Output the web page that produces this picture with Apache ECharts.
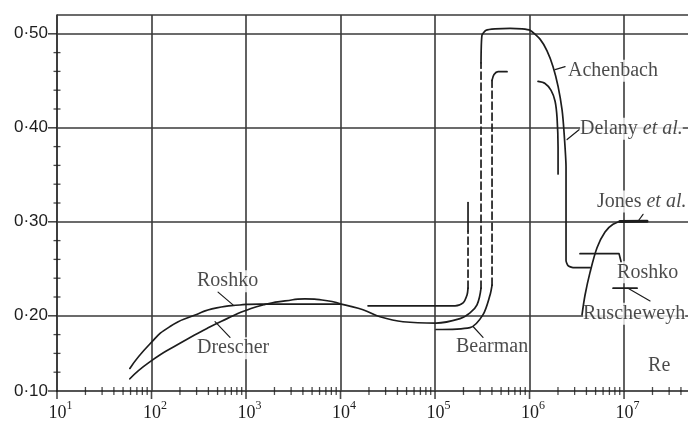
<!DOCTYPE html>
<html>
<head>
<meta charset="utf-8">
<script src="https://cdn.jsdelivr.net/npm/echarts@6/dist/echarts.min.js"></script>
<style>
  html, body { margin: 0; padding: 0; background: #fff; }
  #chart { width: 688px; height: 422px; }
</style>
</head>
<body>
<div id="chart"></div>
<script>
// Strouhal number St of a circular cylinder against Reynolds number Re (log scale)

// ---- axis ticks ----
const yTickValues = [0.12, 0.20, 0.30, 0.40, 0.50];
const yTickLabels = ['0·10', '0·20', '0·30', '0·40', '0·50'];
const xDecades = [10, 100, 1e3, 1e4, 1e5, 1e6, 1e7];
const xTickExponents = ['1', '2', '3', '4', '5', '6', '7'];

// ---- curves: [Re, St] ----
const roshkoLow = [[59, 0.144], [96, 0.170], [157, 0.1886], [275, 0.200], [490, 0.2085], [860, 0.2115], [1400, 0.2125], [3700, 0.2125], [9900, 0.2125]];
const drescher = [[59, 0.133], [96, 0.151], [200, 0.1708], [386, 0.1865], [630, 0.197], [975, 0.2053], [1590, 0.2121], [2590, 0.2158], [4200, 0.2179], [6370, 0.2168], [9900, 0.2127]];
const subcritical = [[9900, 0.2127], [17300, 0.2065], [26200, 0.199], [45800, 0.1937], [102600, 0.1923], [184000, 0.197], [234600, 0.2032], [278000, 0.2116], [306600, 0.2294]];
const bearmanUpper = [[19550, 0.2106], [163000, 0.2106], [198000, 0.2137], [218000, 0.2221], [223400, 0.2294]];
const bearmanUpperJump = [[223400, 0.2294], [223400, 0.2902]];
const bearmanUpperTop = [[223400, 0.2902], [223400, 0.3205]];
const bearmanLower = [[102600, 0.1854], [234600, 0.1875], [322000, 0.2012], [382000, 0.2221], [401000, 0.2326]];
const bearmanLowerJump = [[401000, 0.2326], [401000, 0.4504]];
const bearmanLowerTop = [[401000, 0.4504], [420900, 0.4566], [464400, 0.4597], [578000, 0.4597]];
const achenbachJump = [[306600, 0.2294], [306600, 0.4691]];
const achenbach = [[306600, 0.4691], [314000, 0.4985], [346700, 0.5038], [431700, 0.5053], [622000, 0.5058], [833700, 0.5053], [1012000, 0.5038], [1291000, 0.4943], [1531000, 0.4818], [1773000, 0.465], [2004000, 0.4441], [2209000, 0.419], [2319000, 0.3949], [2433000, 0.3582], [2433000, 0.2587], [2555000, 0.2534], [2884000, 0.2513], [4365000, 0.2513]];
const delany = [[1230000, 0.4493], [1459000, 0.4472], [1690000, 0.4399], [1863000, 0.4283], [1955000, 0.4106], [2004000, 0.3791], [2004000, 0.3509]];
const jones = [[3594000, 0.2012], [3867000, 0.2221], [4365000, 0.2462], [5176000, 0.2724], [6290000, 0.2891], [7650000, 0.2975], [9760000, 0.3006], [17500000, 0.3006]];
const jonesFlat = [[9000000, 0.3003], [17500000, 0.3006]];
const roshkoHigh = [[3420000, 0.2661], [8850000, 0.2661], [9290000, 0.2577]];
const ruscheweyh = [[7650000, 0.2294], [13740000, 0.2294]];

// ---- annotation text and leader lines ----
const noteTexts = ['Roshko', 'Drescher', 'Bearman', 'Achenbach', 'Delany {i|et al.}', 'Jones {i|et al.}', 'Roshko', 'Ruscheweyh', 'Re'];
const noteAnchors = [[303, 0.2368], [303, 0.1655], [166800, 0.1676], [2553000, 0.4608], [3420000, 0.3991], [5180000, 0.3216], [8430000, 0.2462], [3680000, 0.2022], [17950000, 0.1467]];
const leaders = [
  [[506, 0.2252], [728, 0.2116]],
  [[470, 0.1938], [677, 0.1771]],
  [[252500, 0.1886], [322000, 0.1771]],
  [[1862000, 0.4619], [2378000, 0.465]],
  [[2494000, 0.3875], [3340000, 0.398]],
  [[14060000, 0.3006], [15890000, 0.308]],
  [[11010000, 0.2294], [18840000, 0.2158]]
];

const RE_MIN = 10, RE_MAX = 4.75e7;
const ST_MIN = 0.12, ST_MAX = 0.52, ST_STEP = 0.02;

const INK = '#1d1d1d';
const GRID = '#3a3a3a';
const SERIF = '"Liberation Serif", "DejaVu Serif", serif';
const SANS = '"Liberation Sans", "DejaVu Sans", sans-serif';

// log-spaced minor ticks along Re, and 0.02 steps along St
const xMinorTicks = [];
for (let d = 10; d < RE_MAX; d *= 10) {
  for (let m = 2; m <= 9; m++) {
    const v = m * d;
    if (v < RE_MAX) xMinorTicks.push([v, ST_MIN]);
  }
}
const yMinorTicks = [];
for (let k = 1; ST_MIN + k * ST_STEP < ST_MAX - 1e-9; k++) {
  const v = +(ST_MIN + k * ST_STEP).toFixed(2);
  if (!yTickValues.some(t => Math.abs(t - v) < 1e-9)) yMinorTicks.push([RE_MIN, v]);
}

function curve(data, opt) {
  opt = opt || {};
  return {
    type: 'line',
    data: data,
    symbol: 'none',
    showSymbol: false,
    smooth: opt.smooth || false,
    silent: true,
    animation: false,
    z: 3,
    lineStyle: {
      color: INK,
      width: opt.width || 1.7,
      type: opt.dashed ? [7, 4] : 'solid',
      cap: 'round',
      join: 'round'
    }
  };
}

function tickMarks(data, size, offset) {
  return {
    type: 'scatter',
    data: data,
    symbol: 'rect',
    symbolSize: size,
    symbolOffset: offset || [0, 0],
    itemStyle: { color: INK },
    silent: true,
    animation: false,
    clip: false,
    z: 4
  };
}

const series = [];

// grid lines and top frame, kept beneath everything else
series.push({
  type: 'line',
  data: [],
  silent: true,
  animation: false,
  z: 1,
  markLine: {
    z: 1,
    silent: true,
    symbol: 'none',
    animation: false,
    label: { show: false },
    lineStyle: { color: GRID, width: 1.6, type: 'solid' },
    data: yTickValues.slice(1).concat([ST_MAX]).map(v => ({ yAxis: v }))
      .concat(xDecades.slice(1).map(v => ({ xAxis: v })))
  }
});

// curves
series.push(curve(roshkoLow, { smooth: 0.6 }));
series.push(curve(drescher, { smooth: 0.6 }));
series.push(curve(subcritical, { smooth: 0.4 }));
series.push(curve(bearmanUpper, { smooth: 0.3 }));
series.push(curve(bearmanUpperJump, { dashed: true }));
series.push(curve(bearmanUpperTop));
series.push(curve(bearmanLower, { smooth: 0.3 }));
series.push(curve(bearmanLowerJump, { dashed: true }));
series.push(curve(bearmanLowerTop, { smooth: 0.3 }));
series.push(curve(achenbachJump, { dashed: true }));
series.push(curve(achenbach, { smooth: 0.2 }));
series.push(curve(delany, { smooth: 0.3 }));
series.push(curve(jones, { smooth: 0.3 }));
series.push(curve(jonesFlat, { width: 3 }));
series.push(curve(roshkoHigh));
series.push(curve(ruscheweyh));
leaders.forEach(seg => series.push(curve(seg, { width: 1.2 })));

// axis tick marks crossing the axis lines
series.push(tickMarks(xMinorTicks, [1.3, 8]));
series.push(tickMarks(xDecades.map(v => [v, ST_MIN]), [1.6, 8], [0, 4]));
series.push(tickMarks(yMinorTicks, [7, 1.3]));
series.push(tickMarks(yTickValues.map(v => [RE_MIN, v]), [9, 1.6], [-4.5, 0]));

// annotation text (above the grid lines, below the curves)
series.push({
  type: 'scatter',
  data: noteTexts.map((t, i) => ({ name: t, value: noteAnchors[i] })),
  symbolSize: 0,
  silent: true,
  animation: false,
  clip: false,
  z: 2,
  label: {
    show: true,
    position: 'right',
    distance: 0,
    formatter: p => p.name,
    color: INK,
    fontFamily: SERIF,
    fontSize: 20,
    backgroundColor: '#fff',
    padding: [1, 0, 1, 0],
    rich: {
      i: { fontFamily: SERIF, fontSize: 20, fontStyle: 'italic', color: INK }
    }
  }
});

const chart = echarts.init(document.getElementById('chart'), null, { renderer: 'canvas' });
chart.setOption({
  animation: false,
  backgroundColor: '#fff',
  grid: { left: 57, right: 0, top: 15, bottom: 25, containLabel: false },
  xAxis: {
    type: 'log',
    logBase: 10,
    min: RE_MIN,
    max: RE_MAX,
    splitLine: { show: false },
    axisTick: { show: false },
    axisLine: { show: true, lineStyle: { color: INK, width: 1.7 } },
    axisLabel: {
      show: true,
      margin: 9,
      showMaxLabel: false,
      formatter: v => {
        const i = xDecades.findIndex(d => Math.abs(d - v) / d < 1e-6);
        return i < 0 ? '' : '{p|}{b|10}{s|' + xTickExponents[i] + '}';
      },
      rich: {
        p: { width: 7 },
        b: { fontFamily: SERIF, fontSize: 18, color: INK, lineHeight: 22, verticalAlign: 'bottom' },
        s: { fontFamily: SERIF, fontSize: 12, color: INK, lineHeight: 14, verticalAlign: 'top' }
      }
    }
  },
  yAxis: {
    type: 'value',
    min: ST_MIN,
    max: ST_MAX,
    interval: ST_STEP,
    splitLine: { show: false },
    axisTick: { show: false },
    axisLine: { show: true, lineStyle: { color: INK, width: 1.7 } },
    axisLabel: {
      show: true,
      margin: 9,
      showMaxLabel: false,
      fontFamily: SANS,
      fontSize: 17,
      color: INK,
      formatter: v => {
        const i = yTickValues.findIndex(t => Math.abs(t - v) < 1e-6);
        return i < 0 ? '' : yTickLabels[i];
      }
    }
  },
  series: series
});
</script>
</body>
</html>
